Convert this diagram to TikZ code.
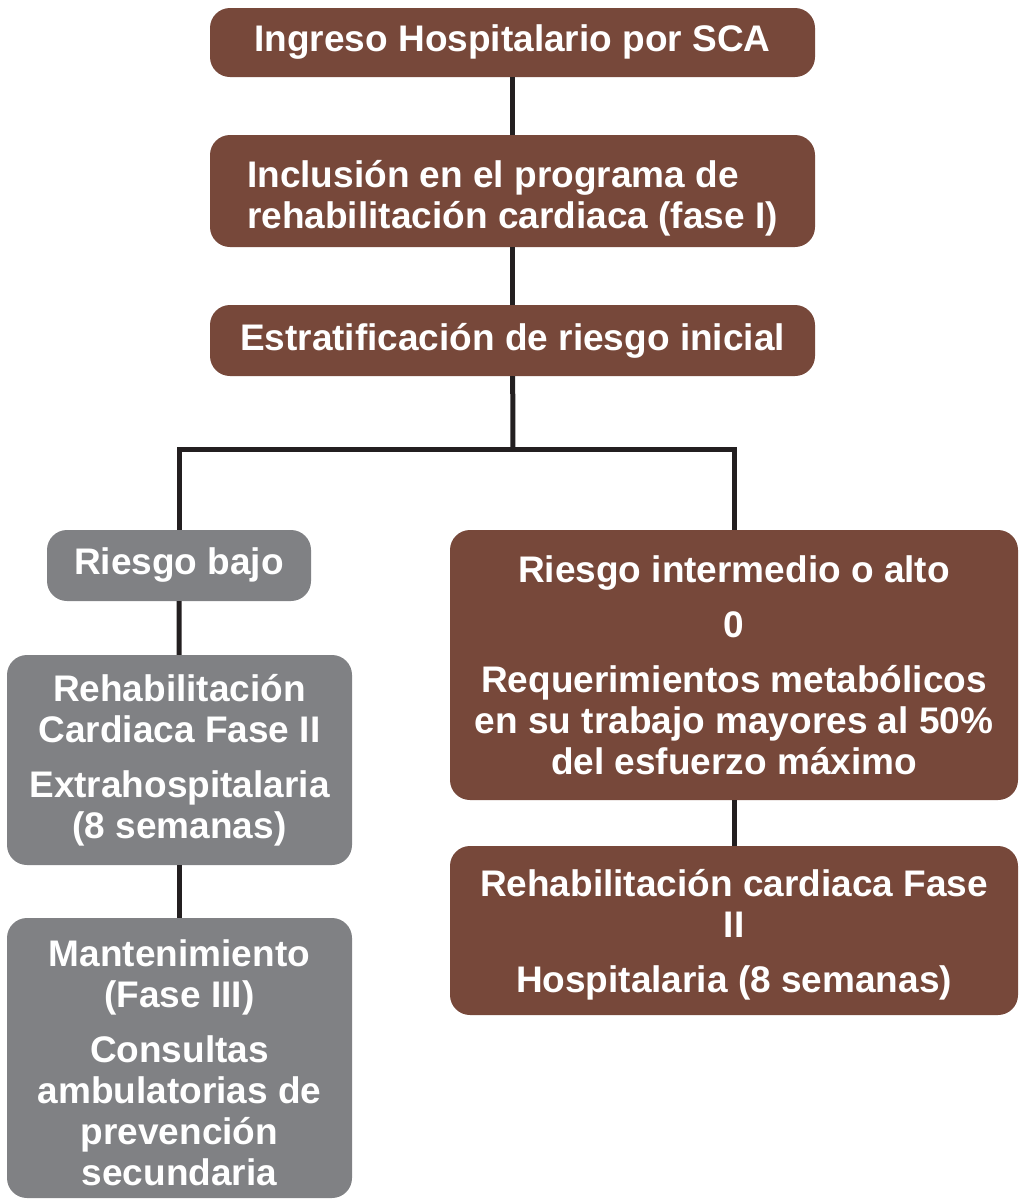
\documentclass[tikz,border=0pt]{standalone}
\usepackage{fontspec}
\setmainfont{Liberation Sans}
\definecolor{rcbrown}{RGB}{119,72,58}
\definecolor{rcgray}{RGB}{128,129,132}
\definecolor{rcline}{RGB}{35,31,32}

\begin{document}
\begin{tikzpicture}[x=1pt,y=-1pt,
    box/.style={rectangle,rounded corners=20pt,fill=rcbrown,text=white,inner sep=0pt,
      align=center,font=\bfseries\fontsize{37}{41}\selectfont},
    graybox/.style={box,fill=rcgray},
    link/.style={rcline,line width=5pt}]
    \useasboundingbox (0,0) rectangle (1020,1200);
    % programa de rehabilitacion cardiaca
    \node[box,minimum width=605pt,minimum height=69pt] (ingreso) at (512.5,42.5) {Ingreso Hospitalario por SCA};
    \node[box,align=left,minimum width=605pt,minimum height=112pt] (fase1) at (512.5,191) {\rule{0pt}{41pt}Inclusión en el programa de\\rehabilitación cardiaca (fase I)};
    \node[box,minimum width=605pt,minimum height=71pt] (estrat) at (512.5,340.5) {Estratificación de riesgo inicial};
    \node[graybox,minimum width=264pt,minimum height=71pt] (bajo) at (179,565.5) {Riesgo bajo};
    \node[box,minimum width=568pt,minimum height=270pt] (alto) at (734,665) {Riesgo intermedio o alto\\[14pt]0\\[14pt]Requerimientos metabólicos\\en su trabajo mayores al 50\%\\del esfuerzo máximo};
    \node[graybox,minimum width=345pt,minimum height=210pt] (extra) at (179.5,760) {Rehabilitación\\Cardiaca Fase II\\[14pt]Extrahospitalaria\\(8 semanas)};
    \node[graybox,minimum width=345pt,minimum height=280pt] (mant) at (179.5,1058) {\rule{0pt}{37pt}Mantenimiento\\(Fase III)\\[14pt]Consultas\\ambulatorias de\\prevención\\secundaria};
    \node[box,minimum width=568pt,minimum height=169pt] (hosp) at (734,930.5) {\rule{0pt}{35pt}Rehabilitación cardiaca Fase\\II\\[14pt]Hospitalaria (8 semanas)};
    % conectores
    \coordinate (split) at (513,449.5);
    \draw[link] (ingreso) -- (fase1);
    \draw[link] (fase1) -- (estrat);
    \draw[link] (estrat) -- (split);
    \draw[link] (bajo.north) |- (split) -| (alto.north);
    \draw[link] (bajo) -- (extra);
    \draw[link] (extra) -- (mant);
    \draw[link] (alto) -- (hosp);
\end{tikzpicture}
\end{document}
